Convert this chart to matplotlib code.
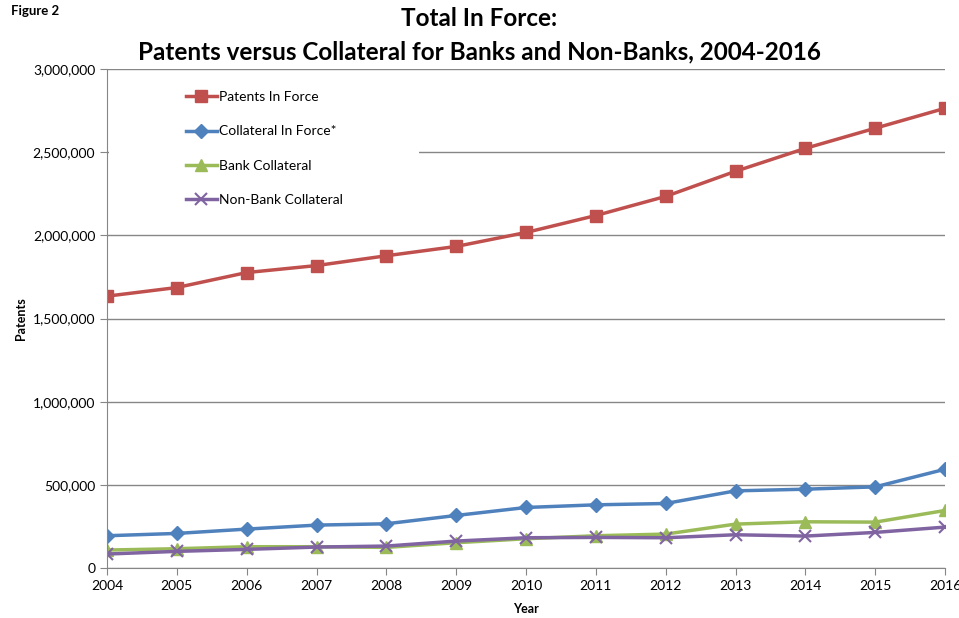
import numpy as np
import matplotlib
matplotlib.use('Agg')
import matplotlib.pyplot as plt
from matplotlib.ticker import FuncFormatter
from matplotlib.patches import Rectangle

years = [2004, 2005, 2006, 2007, 2008, 2009, 2010, 2011, 2012, 2013, 2014, 2015, 2016]
patents = [1635000, 1687000, 1777000, 1819000, 1878000, 1934000, 2018000, 2120000,
           2235000, 2386000, 2524000, 2645000, 2765000]
collateral = [194000, 208000, 234000, 258000, 266000, 316000, 364000, 380000,
              388000, 464000, 474000, 488000, 594000]
bank = [108000, 116000, 128000, 128000, 124000, 152000, 176000, 194000,
        204000, 264000, 278000, 276000, 346000]
nonbank = [84000, 100000, 112000, 126000, 132000, 162000, 182000, 184000,
           182000, 200000, 192000, 214000, 246000]

plt.rcParams['font.family'] = ['Lato', 'DejaVu Sans']

fig = plt.figure(figsize=(9.59, 6.18), dpi=100)
ax = fig.add_axes([0.1116, 0.0809, 0.8738, 0.8071])

ax.plot(years, patents, '-s', color='#C0504D', lw=2.5, ms=8, label='Patents In Force')
ax.plot(years, collateral, '-D', color='#4F81BD', lw=2.5, ms=7, label='Collateral In Force*')
ax.plot(years, bank, '-^', color='#9BBB59', lw=2.5, ms=8.5, label='Bank Collateral')
ax.plot(years, nonbank, '-x', color='#8064A2', lw=2.5, ms=8.5, mew=1.5, label='Non-Bank Collateral')

ax.set_xlim(2004, 2016)
ax.set_ylim(0, 3000000)
ax.set_xticks(years)
ax.set_yticks(np.arange(0, 3000001, 500000))
ax.yaxis.set_major_formatter(FuncFormatter(lambda v, p: f'{int(v):,}'))
ax.grid(axis='y', color='#868686', lw=1)
ax.set_axisbelow(True)
for s in ['top', 'right']:
    ax.spines[s].set_visible(False)
for s in ['left', 'bottom']:
    ax.spines[s].set_color('#868686')
ax.tick_params(colors='#868686', labelcolor='black', labelsize=10, length=5)

ax.set_xlabel('Year', fontsize=9, fontweight='bold', labelpad=8)
ax.set_ylabel('Patents', fontsize=9, fontweight='bold', labelpad=4)

# white box behind the legend hides part of the gridline
ax.add_patch(Rectangle((0.002, 0.74), 0.37, 0.2, transform=ax.transAxes,
                       facecolor='white', edgecolor='none', zorder=1))
leg = ax.legend(loc='upper left', bbox_to_anchor=(0.094, 0.956), fontsize=10,
                labelspacing=1.6, handlelength=2.25, handletextpad=0.12,
                borderpad=0, borderaxespad=0, frameon=False)

fig.text(0.5, 0.958, 'Total In Force:', ha='center', fontsize=17.5, fontweight='bold')
fig.text(0.5, 0.904, 'Patents versus Collateral for Banks and Non-Banks, 2004-2016',
         ha='center', fontsize=17.5, fontweight='bold')
fig.text(0.011, 0.975, 'Figure 2', fontsize=9.5, fontweight='bold')

plt.savefig('out.png', dpi=100)
